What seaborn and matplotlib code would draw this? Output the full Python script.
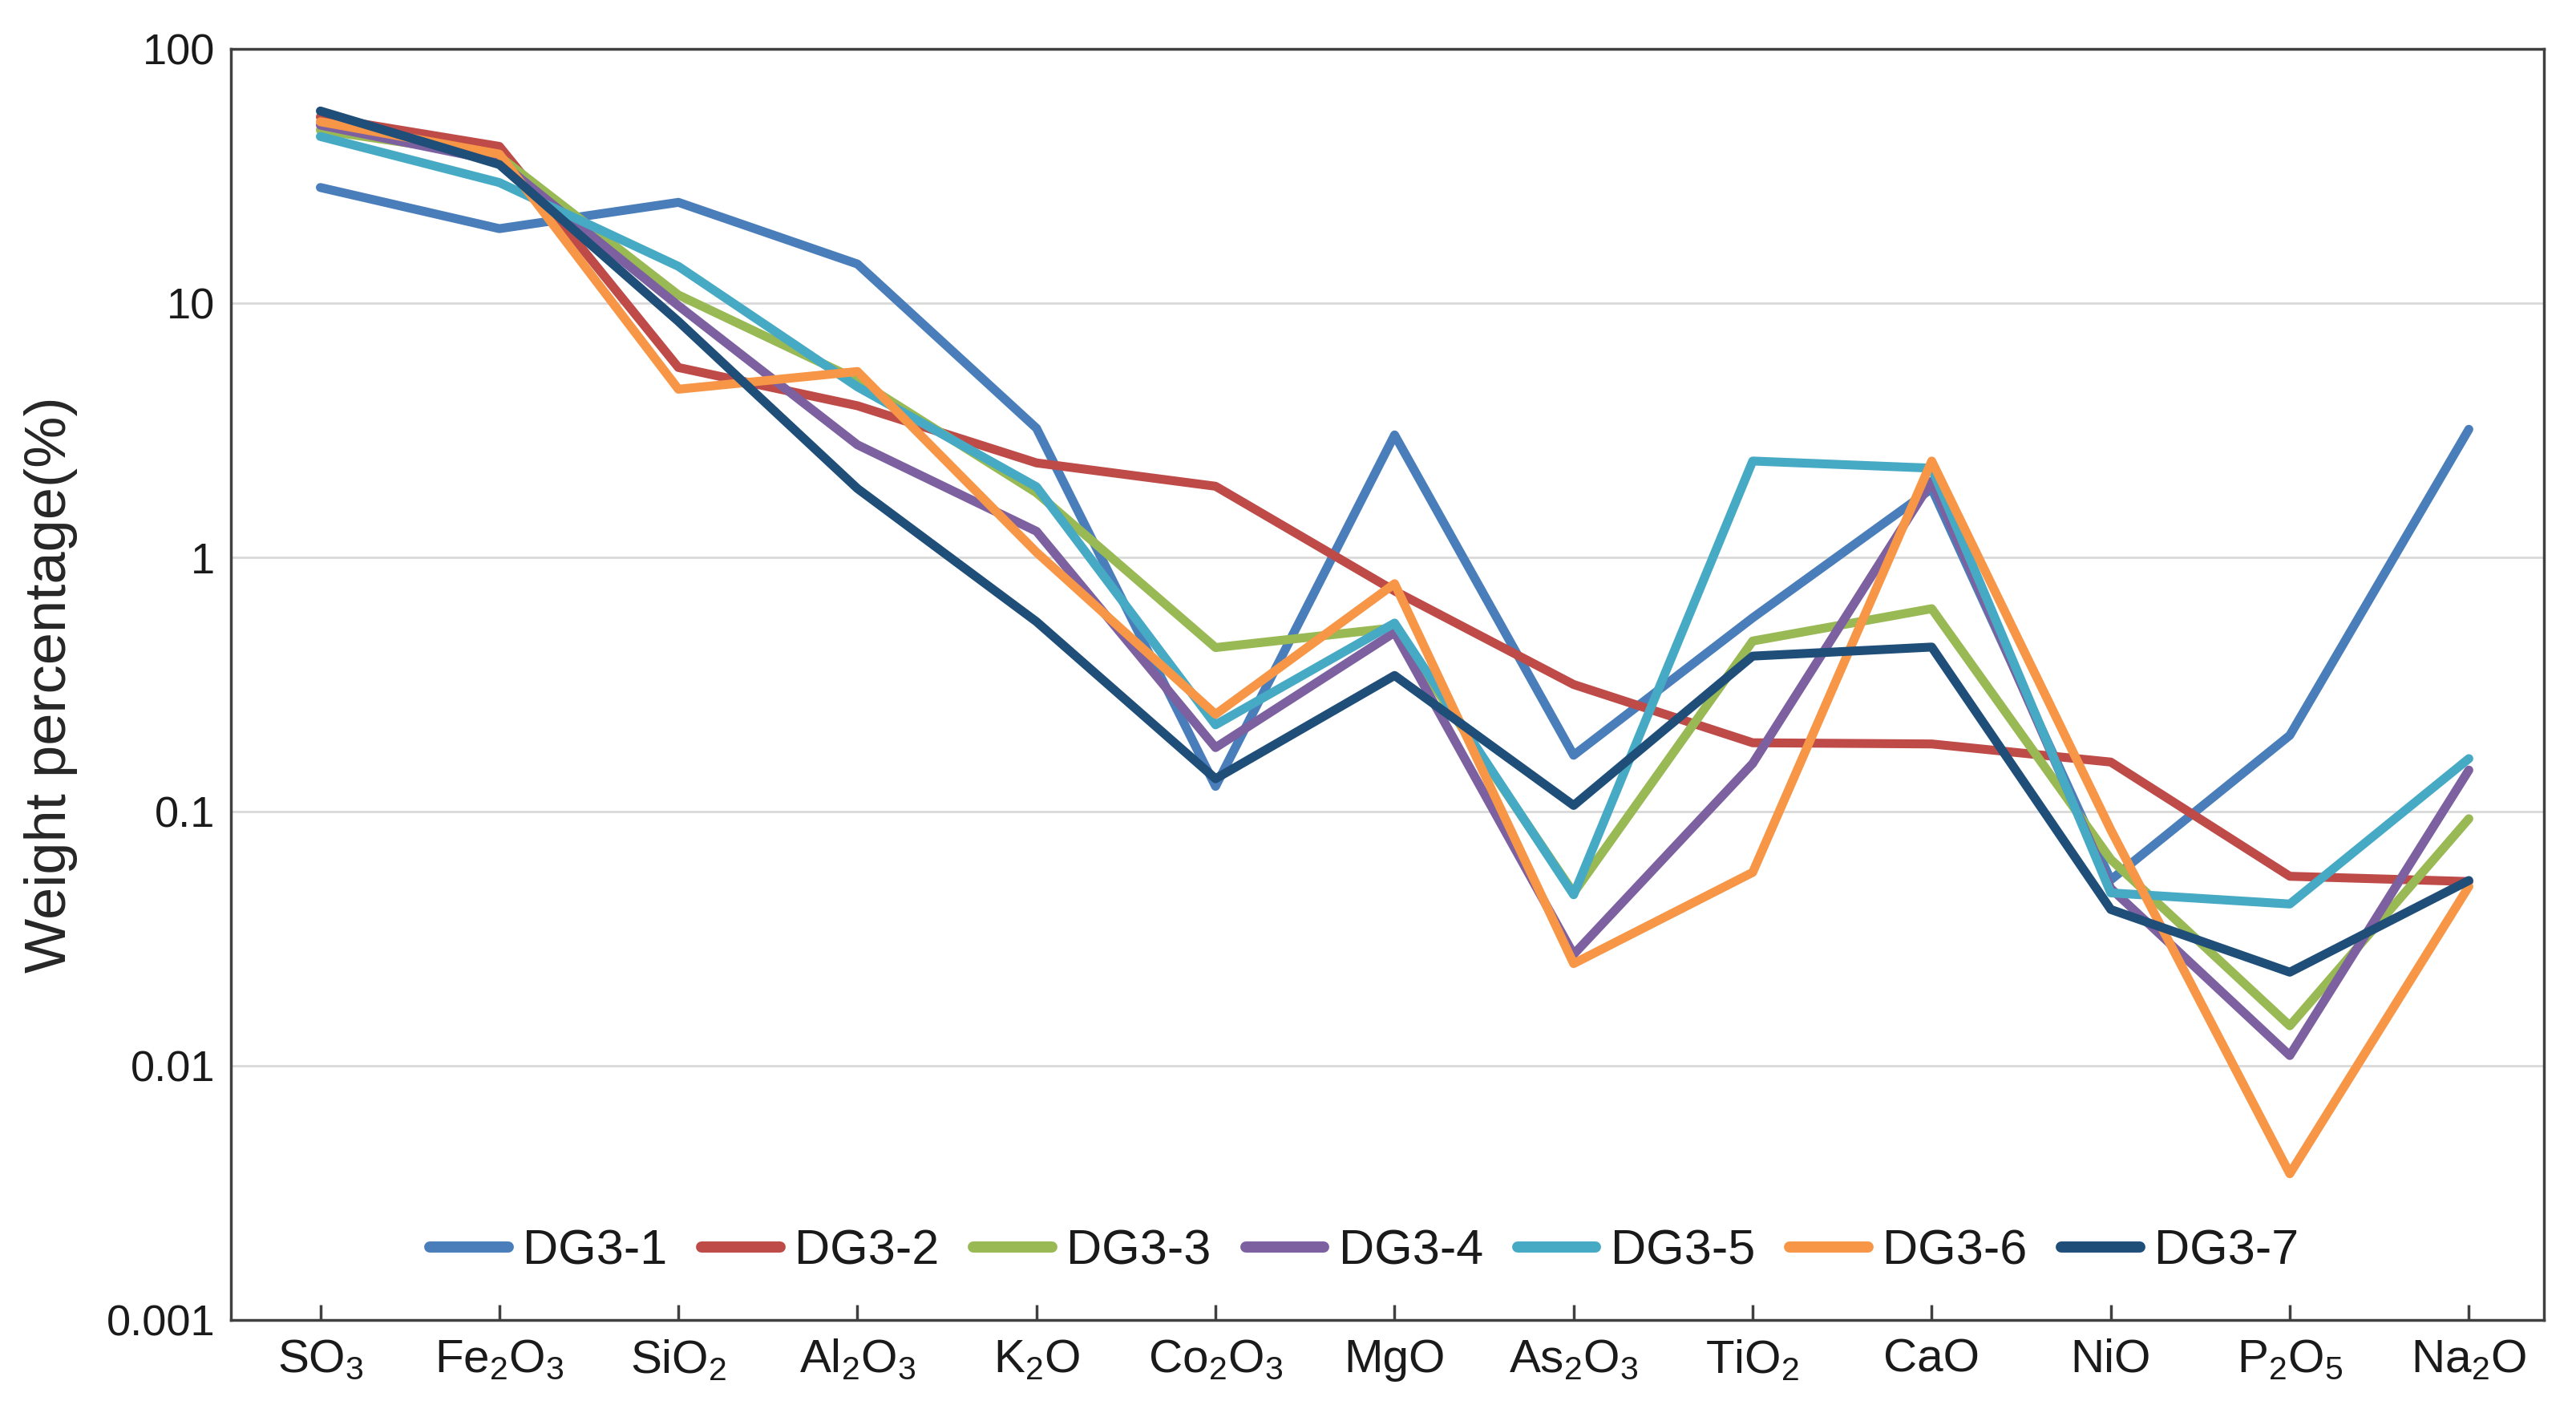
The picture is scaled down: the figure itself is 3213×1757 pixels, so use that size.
import pandas as pd
import seaborn as sns
import matplotlib.pyplot as plt
from matplotlib.ticker import FixedLocator, NullLocator

# oxide categories along the x axis
oxides = ['SO3', 'Fe2O3', 'SiO2', 'Al2O3', 'K2O', 'Co2O3', 'MgO',
          'As2O3', 'TiO2', 'CaO', 'NiO', 'P2O5', 'Na2O']
oxide_labels = ['SO$_3$', 'Fe$_2$O$_3$', 'SiO$_2$', 'Al$_2$O$_3$', 'K$_2$O',
                'Co$_2$O$_3$', 'MgO', 'As$_2$O$_3$', 'TiO$_2$', 'CaO', 'NiO',
                'P$_2$O$_5$', 'Na$_2$O']

# weight percentage (%) per sample
dg3_1 = [28.6, 19.7, 25.0, 14.3, 3.23, 0.126, 3.04, 0.167, 0.58, 1.87, 0.054, 0.20, 3.2]
dg3_2 = [54.2, 41.5, 5.6, 3.96, 2.36, 1.91, 0.74, 0.317, 0.187, 0.185, 0.157, 0.0558, 0.0532]
dg3_3 = [48.1, 37.9, 10.8, 5.0, 1.8, 0.443, 0.53, 0.048, 0.47, 0.63, 0.065, 0.0144, 0.094]
dg3_4 = [50.3, 36.2, 9.8, 2.78, 1.27, 0.179, 0.508, 0.0275, 0.155, 2.0, 0.05, 0.011, 0.146]
dg3_5 = [45.4, 29.9, 14.0, 4.7, 1.9, 0.220, 0.553, 0.0472, 2.4, 2.25, 0.048, 0.0434, 0.162]
dg3_6 = [51.9, 38.7, 4.6, 5.4, 1.05, 0.242, 0.79, 0.0253, 0.0578, 2.4, 0.085, 0.00377, 0.0509]
dg3_7 = [57.2, 35.2, 8.5, 1.87, 0.56, 0.135, 0.344, 0.106, 0.41, 0.445, 0.0413, 0.0234, 0.0537]

samples = ['DG3-1', 'DG3-2', 'DG3-3', 'DG3-4', 'DG3-5', 'DG3-6', 'DG3-7']
series = [dg3_1, dg3_2, dg3_3, dg3_4, dg3_5, dg3_6, dg3_7]
colors = ['#4A7EBB', '#BE4B48', '#98B954', '#7D60A0', '#46AAC5', '#F79646', '#1F4E79']

rows = []
for name, vals in zip(samples, series):
    for i, v in enumerate(vals):
        rows.append({'pos': i, 'oxide': oxides[i], 'sample': name, 'wt': v})
df = pd.DataFrame(rows)

sns.set_style('white')
plt.rcParams['font.family'] = ['Liberation Sans', 'DejaVu Sans']
plt.rcParams['mathtext.fontset'] = 'custom'
plt.rcParams['mathtext.rm'] = 'Liberation Sans'
plt.rcParams['mathtext.it'] = 'Liberation Sans:italic'
plt.rcParams['mathtext.bf'] = 'Liberation Sans:bold'
plt.rcParams['text.color'] = '#1A1A1A'
plt.rcParams['xtick.color'] = '#1A1A1A'
plt.rcParams['ytick.color'] = '#1A1A1A'

fig = plt.figure(figsize=(32.13, 17.57), dpi=100)
ax = fig.add_axes([0.0896, 0.063, 0.898, 0.902])

sns.lineplot(data=df, x='pos', y='wt', hue='sample', hue_order=samples,
             palette=dict(zip(samples, colors)), linewidth=8, sort=False,
             estimator=None, ax=ax)

ax.set_yscale('log')
ax.set_ylim(0.001, 100)
ax.set_xlim(-0.5, 12.42)
ax.yaxis.set_major_locator(FixedLocator([0.001, 0.01, 0.1, 1, 10, 100]))
ax.yaxis.set_minor_locator(NullLocator())
ax.set_yticklabels(['0.001', '0.01', '0.1', '1', '10', '100'])
ax.set_xticks(range(len(oxides)))
ax.set_xticklabels(oxide_labels)

ax.grid(axis='y', color='#D9D9D9', linewidth=2)
ax.set_axisbelow(True)
for s in ax.spines.values():
    s.set_color('#404040')
    s.set_linewidth(2.5)

ax.tick_params(axis='x', direction='in', length=14, width=2.5, color='#404040',
               labelsize=42, pad=16, bottom=True)
ax.tick_params(axis='y', length=0, labelsize=39, pad=14)
ax.set_xlabel('')
ax.set_ylabel('Weight percentage(%)', fontsize=52, labelpad=26)

leg = ax.legend(loc='center', bbox_to_anchor=(0.49, 0.054), ncol=7, frameon=False,
                fontsize=44, handlelength=1.6, handletextpad=0.3, columnspacing=0.7)
for line in leg.get_lines():
    line.set_linewidth(10)

fig.savefig('out.png', dpi=100)
